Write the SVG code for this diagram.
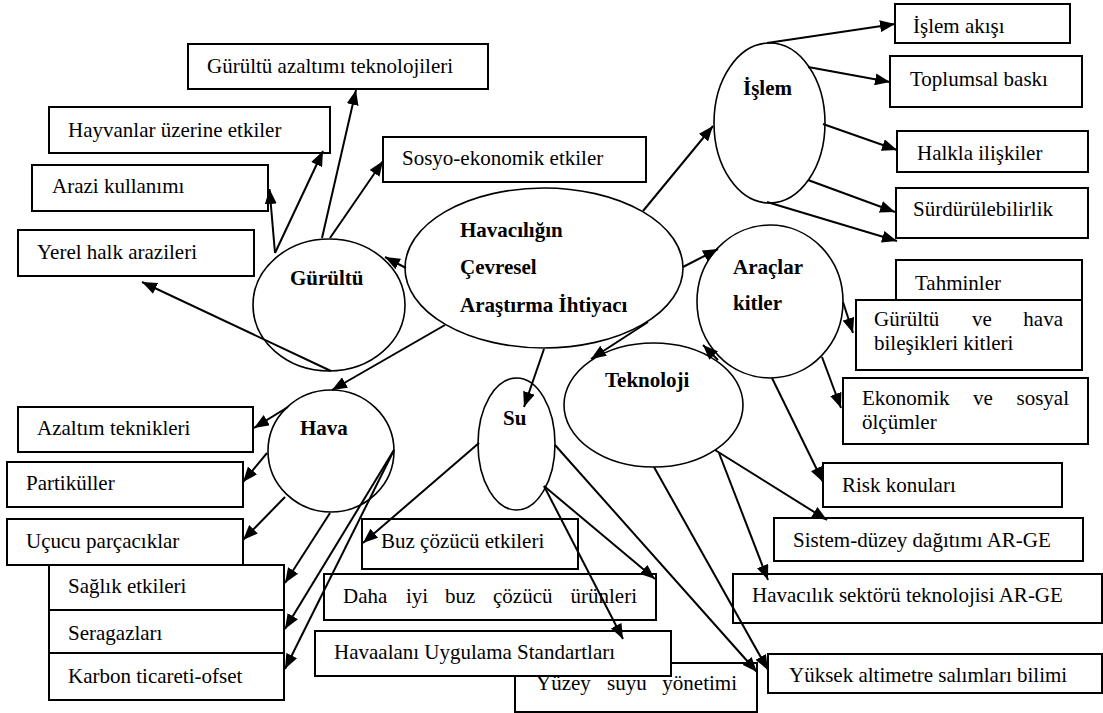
<svg xmlns="http://www.w3.org/2000/svg" width="1103" height="713" viewBox="0 0 1103 713">
  <style>
    text { font-family: "Liberation Serif", Tinos, "Times New Roman", "DejaVu Serif", serif; font-size: 21px; fill: #000; }
    .b { font-weight: bold; }
    .box { fill: #fff; stroke: #000; stroke-width: 2; }
    .ell { fill: none; stroke: #000; stroke-width: 1.6; }
    .con line { stroke: #000; stroke-width: 2; marker-end: url(#ah); }
  </style>
  <defs>
    <marker id="ah" markerWidth="16" markerHeight="12" refX="15" refY="6" orient="auto" markerUnits="userSpaceOnUse">
      <path d="M0,0 L15,6 L0,12 z" fill="#000"/>
    </marker>
  </defs>
  <rect width="1103" height="713" fill="#fff"/>

  <!-- boxes: noise branch -->
  <g id="n-gurultu-azaltimi"><rect class="box" x="188" y="44" width="300" height="45"/><text x="207" y="73">Gürültü azaltımı teknolojileri</text></g>
  <g id="n-hayvanlar"><rect class="box" x="49" y="107" width="281" height="46"/><text x="68" y="137">Hayvanlar üzerine etkiler</text></g>
  <g id="n-arazi"><rect class="box" x="32" y="165" width="236" height="46"/><text x="52" y="193">Arazi kullanımı</text></g>
  <g id="n-yerel"><rect class="box" x="18" y="230" width="236" height="46"/><text x="37" y="259">Yerel halk arazileri</text></g>
  <g id="n-sosyo"><rect class="box" x="383" y="137" width="263" height="45"/><text x="402" y="165">Sosyo-ekonomik etkiler</text></g>

  <!-- boxes: process branch -->
  <g id="n-islem-akisi"><rect class="box" x="895" y="4" width="175" height="39"/><text x="913" y="33">İşlem akışı</text></g>
  <g id="n-toplumsal"><rect class="box" x="890" y="56" width="192" height="51"/><text x="910" y="86">Toplumsal baskı</text></g>
  <g id="n-halkla"><rect class="box" x="897" y="131" width="191" height="41"/><text x="917" y="160">Halkla ilişkiler</text></g>
  <g id="n-surdurulebilirlik"><rect class="box" x="896" y="188" width="192" height="50"/><text x="913" y="216">Sürdürülebilirlik</text></g>

  <!-- boxes: tools branch -->
  <g id="n-tahminler"><rect class="box" x="896" y="260" width="186" height="50"/><text x="915" y="290">Tahminler</text></g>
  <g id="n-gurultu-hava-kit"><rect class="box" x="856" y="300" width="226" height="70"/>
    <text y="326"><tspan x="874">Gürültü</tspan><tspan x="972">ve</tspan><tspan x="1063" text-anchor="end">hava</tspan></text>
    <text x="874" y="350">bileşikleri kitleri</text></g>
  <g id="n-ekonomik"><rect class="box" x="843" y="378" width="245" height="66"/>
    <text y="405"><tspan x="862">Ekonomik</tspan><tspan x="973">ve</tspan><tspan x="1069" text-anchor="end">sosyal</tspan></text>
    <text x="862" y="429">ölçümler</text></g>
  <g id="n-risk"><rect class="box" x="823" y="463" width="239" height="44"/><text x="842" y="492">Risk konuları</text></g>

  <!-- boxes: technology branch -->
  <g id="n-sistem"><rect class="box" x="774" y="518" width="309" height="43"/><text x="793" y="547">Sistem-düzey dağıtımı AR-GE</text></g>
  <g id="n-havacilik-sektoru"><rect class="box" x="733" y="574" width="369" height="49"/><text x="752" y="602">Havacılık sektörü teknolojisi AR-GE</text></g>
  <g id="n-yuksek"><rect class="box" x="768" y="654" width="334" height="39"/><text x="789" y="682">Yüksek altimetre salımları bilimi</text></g>

  <!-- boxes: air branch -->
  <g id="n-azaltim"><rect class="box" x="18" y="407" width="235" height="45"/><text x="37" y="435">Azaltım teknikleri</text></g>
  <g id="n-partikuller"><rect class="box" x="7" y="462" width="236" height="45"/><text x="26" y="490">Partiküller</text></g>
  <g id="n-ucucu"><rect class="box" x="7" y="519" width="236" height="46"/><text x="26" y="548">Uçucu parçacıklar</text></g>
  <g id="n-saglik"><rect class="box" x="49" y="565" width="235" height="45"/><text x="68" y="593">Sağlık etkileri</text></g>
  <g id="n-seragazlari"><rect class="box" x="49" y="610" width="235" height="43"/><text x="68" y="640">Seragazları</text></g>
  <g id="n-karbon"><rect class="box" x="49" y="653" width="235" height="47"/><text x="68" y="683">Karbon ticareti-ofset</text></g>

  <!-- boxes: water branch -->
  <g id="n-buz"><rect class="box" x="362" y="519" width="216" height="50"/><text x="381" y="548">Buz çözücü etkileri</text></g>
  <g id="n-daha-iyi"><rect class="box" x="324" y="574" width="332" height="46"/>
    <text y="603"><tspan x="343">Daha</tspan><tspan x="406">iyi</tspan><tspan x="445">buz</tspan><tspan x="493">çözücü</tspan><tspan x="637" text-anchor="end">ürünleri</tspan></text></g>
  <g id="n-yuzey"><rect class="box" x="515" y="663" width="242" height="49"/>
    <text y="690"><tspan x="536">Yüzey</tspan><tspan x="607">suyu</tspan><tspan x="737" text-anchor="end">yönetimi</tspan></text></g>
  <g id="n-havaalani"><rect class="box" x="315" y="631" width="356" height="45"/><text x="334" y="659">Havaalanı Uygulama Standartları</text></g>

  <!-- ellipse nodes -->
  <g id="n-merkez"><ellipse class="ell" cx="544" cy="268" rx="139" ry="80"/>
    <text class="b" x="460" y="237">Havacılığın</text>
    <text class="b" x="460" y="274">Çevresel</text>
    <text class="b" x="460" y="312">Araştırma İhtiyacı</text></g>
  <g id="n-gurultu"><ellipse class="ell" cx="329" cy="305" rx="76" ry="66"/><text class="b" x="290" y="285">Gürültü</text></g>
  <g id="n-hava"><ellipse class="ell" cx="331" cy="451" rx="63" ry="61"/><text class="b" x="300" y="435">Hava</text></g>
  <g id="n-su"><ellipse class="ell" cx="516.5" cy="444" rx="38.5" ry="66"/><text class="b" x="503" y="425">Su</text></g>
  <g id="n-teknoloji"><ellipse class="ell" cx="653.5" cy="405" rx="89.5" ry="62"/><text class="b" x="605" y="387">Teknoloji</text></g>
  <g id="n-islem"><ellipse class="ell" cx="769.5" cy="123" rx="55.5" ry="80"/><text class="b" x="743" y="95">İşlem</text></g>
  <g id="n-araclar"><ellipse class="ell" cx="770" cy="301.5" rx="73" ry="76.5"/>
    <text class="b" x="733" y="274">Araçlar</text>
    <text class="b" x="733" y="310">kitler</text></g>

  <!-- connectors -->
  <g id="connectors" class="con">
    <line x1="406" y1="268" x2="385" y2="257"/>
    <line x1="445" y1="325" x2="332" y2="390"/>
    <line x1="544" y1="349" x2="524" y2="407"/>
    <line x1="648" y1="322" x2="591" y2="359"/>
    <line x1="643" y1="211" x2="713" y2="126"/>
    <line x1="683" y1="267" x2="718" y2="249"/>
    <line x1="718" y1="360" x2="703" y2="345"/>

    <line x1="322" y1="238" x2="356" y2="90"/>
    <line x1="275" y1="253" x2="323" y2="151"/>
    <line x1="275" y1="253" x2="269.5" y2="189"/>
    <line x1="330" y1="238" x2="383" y2="161"/>
    <line x1="331" y1="371" x2="142" y2="282"/>

    <line x1="288" y1="407" x2="254" y2="428"/>
    <line x1="267" y1="453" x2="243" y2="482"/>
    <line x1="285" y1="497" x2="243" y2="540"/>
    <line x1="330" y1="513" x2="285" y2="583"/>
    <line x1="394" y1="450" x2="285" y2="629"/>
    <line x1="394" y1="450" x2="285" y2="669"/>

    <line x1="479" y1="443" x2="363" y2="543"/>
    <line x1="544" y1="486" x2="655" y2="579"/>
    <line x1="544" y1="486" x2="623" y2="639"/>
    <line x1="555" y1="445" x2="757" y2="672"/>

    <line x1="715" y1="450" x2="827" y2="520"/>
    <line x1="719" y1="453" x2="768" y2="580"/>
    <line x1="654" y1="467" x2="768" y2="670"/>

    <line x1="767" y1="43" x2="895" y2="24"/>
    <line x1="808" y1="67" x2="890" y2="82"/>
    <line x1="823" y1="124" x2="897" y2="150"/>
    <line x1="808" y1="180" x2="895" y2="212"/>
    <line x1="767" y1="202" x2="897" y2="241"/>

    <line x1="843" y1="302" x2="853" y2="333"/>
    <line x1="822" y1="357" x2="841" y2="408"/>
    <line x1="772" y1="378" x2="823" y2="482"/>
  </g>
</svg>
